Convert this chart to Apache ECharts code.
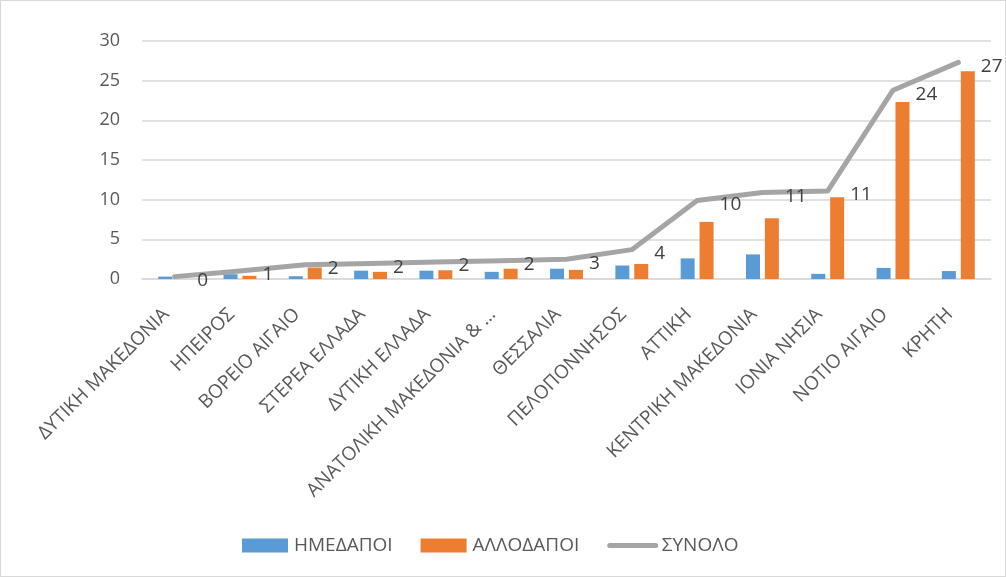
<!DOCTYPE html>
<html>
<head>
<meta charset="utf-8">
<script src="https://cdn.jsdelivr.net/npm/echarts@6/dist/echarts.min.js"></script>
<style>
html,body{margin:0;padding:0;background:#fff;}
#c{width:1004px;height:575px;border:1px solid #d9d9d9;}
</style>
</head>
<body>
<div id="c"></div>
<script>
var categories = ['ΔΥΤΙΚΗ ΜΑΚΕΔΟΝΙΑ','ΗΠΕΙΡΟΣ','ΒΟΡΕΙΟ ΑΙΓΑΙΟ','ΣΤΕΡΕΑ ΕΛΛΑΔΑ','ΔΥΤΙΚΗ ΕΛΛΑΔΑ','ΑΝΑΤΟΛΙΚΗ ΜΑΚΕΔΟΝΙΑ & ΘΡΑΚΗ','ΘΕΣΣΑΛΙΑ','ΠΕΛΟΠΟΝΝΗΣΟΣ','ΑΤΤΙΚΗ','ΚΕΝΤΡΙΚΗ ΜΑΚΕΔΟΝΙΑ','ΙΟΝΙΑ ΝΗΣΙΑ','ΝΟΤΙΟ ΑΙΓΑΙΟ','ΚΡΗΤΗ'];
var imedapoi = [0.3, 0.6, 0.35, 1.05, 1.05, 0.9, 1.3, 1.7, 2.6, 3.1, 0.65, 1.4, 1.0];
var allodapoi = [0, 0.4, 1.45, 0.9, 1.1, 1.3, 1.15, 1.9, 7.2, 7.65, 10.3, 22.3, 26.2];
var synolo = [0.3, 1.0, 1.8, 1.95, 2.15, 2.3, 2.5, 3.7, 9.9, 10.9, 11.1, 23.8, 27.3];
var yTicks = [0, 5, 10, 15, 20, 25, 30];

var FONT = '"Open Sans", "Noto Sans", sans-serif';
var chart = echarts.init(document.getElementById('c'));
chart.setOption({
  animation: false,
  textStyle: {fontFamily: FONT},
  grid: {left: 141, right: 14, top: 40, bottom: 297, containLabel: false},
  legend: {
    bottom: 16,
    left: 236,
    itemWidth: 46,
    itemHeight: 14,
    itemGap: 28,
    textStyle: {color: '#595959', fontSize: 19, fontFamily: FONT, padding: [0,0,0,1]},
    data: [
      {name: 'ΗΜΕΔΑΠΟΙ', icon: 'rect'},
      {name: 'ΑΛΛΟΔΑΠΟΙ', icon: 'rect'},
      {name: 'ΣΥΝΟΛΟ', itemStyle: {opacity: 0}, lineStyle: {width: 5, cap: 'round', color: '#A5A5A5'}}
    ]
  },
  xAxis: {
    type: 'category',
    data: categories,
    axisLine: {show: true, lineStyle: {color: '#d9d9d9', width: 1.5}},
    axisTick: {show: false},
    axisLabel: {
      rotate: 45,
      interval: 0,
      color: '#595959',
      fontSize: 19,
      margin: 24,
      padding: [0, 12, 0, 0],
      formatter: function (v) { return v.length > 22 ? v.slice(0, 22) + '…' : v; }
    }
  },
  yAxis: {
    type: 'value',
    min: yTicks[0],
    max: yTicks[yTicks.length - 1],
    interval: 5,
    axisLine: {show: false},
    axisTick: {show: false},
    splitLine: {lineStyle: {color: '#d9d9d9', width: 1.5}},
    axisLabel: {color: '#595959', fontSize: 18, margin: 22}
  },
  series: [
    {
      name: 'ΗΜΕΔΑΠΟΙ', type: 'bar', data: imedapoi,
      barWidth: 14, barGap: '35%',
      itemStyle: {color: '#5B9BD5'}
    },
    {
      name: 'ΑΛΛΟΔΑΠΟΙ', type: 'bar', data: allodapoi,
      barWidth: 14, barGap: '35%',
      itemStyle: {color: '#ED7D31'}
    },
    {
      name: 'ΣΥΝΟΛΟ', type: 'line', data: synolo,
      symbol: 'circle', symbolSize: 1,
      itemStyle: {color: 'rgba(165,165,165,0)'},
      lineStyle: {color: '#A5A5A5', width: 5, cap: 'round', join: 'round'},
      z: 5,
      label: {
        show: true, position: 'right', distance: 22, offset: [0, 4],
        color: '#404040', fontSize: 19, fontFamily: FONT,
        formatter: function (p) { return Math.round(p.value); }
      }
    }
  ]
});
</script>
</body>
</html>
